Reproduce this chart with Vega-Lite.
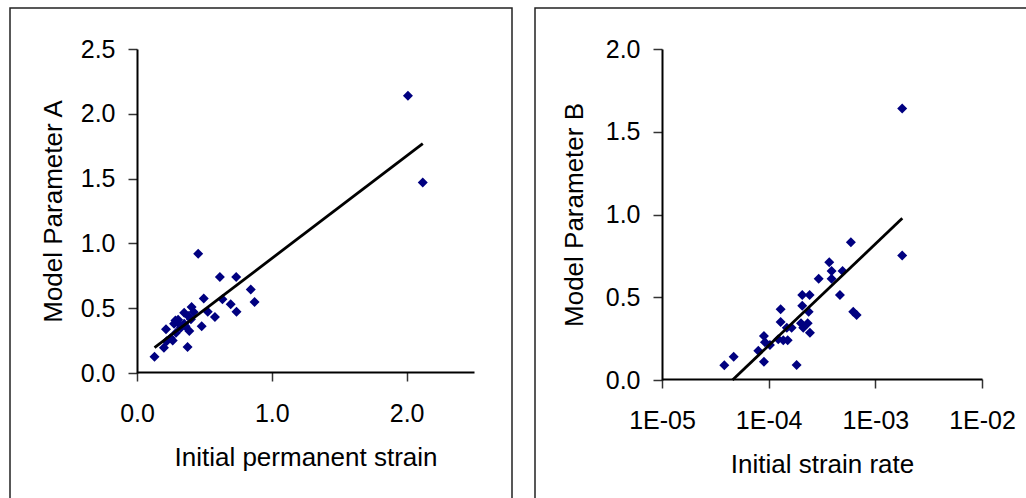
{
  "$schema": "https://vega.github.io/schema/vega-lite/v6.json",
  "padding": {"left": 9, "top": 7, "right": 0, "bottom": 0},
  "spacing": 21,
  "datasets": {
    "strainPoints": [
      {"strain": 0.13, "paramA": 0.125},
      {"strain": 0.20, "paramA": 0.195},
      {"strain": 0.215, "paramA": 0.337},
      {"strain": 0.22, "paramA": 0.245},
      {"strain": 0.25, "paramA": 0.27},
      {"strain": 0.265, "paramA": 0.25},
      {"strain": 0.275, "paramA": 0.38},
      {"strain": 0.285, "paramA": 0.405},
      {"strain": 0.305, "paramA": 0.41},
      {"strain": 0.305, "paramA": 0.385},
      {"strain": 0.325, "paramA": 0.35},
      {"strain": 0.29, "paramA": 0.31},
      {"strain": 0.35, "paramA": 0.465},
      {"strain": 0.35, "paramA": 0.38},
      {"strain": 0.36, "paramA": 0.36},
      {"strain": 0.375, "paramA": 0.2},
      {"strain": 0.38, "paramA": 0.44},
      {"strain": 0.388, "paramA": 0.324},
      {"strain": 0.40, "paramA": 0.415},
      {"strain": 0.405, "paramA": 0.51},
      {"strain": 0.42, "paramA": 0.47},
      {"strain": 0.454, "paramA": 0.92},
      {"strain": 0.48, "paramA": 0.36},
      {"strain": 0.495, "paramA": 0.575},
      {"strain": 0.525, "paramA": 0.473},
      {"strain": 0.578, "paramA": 0.432},
      {"strain": 0.615, "paramA": 0.74},
      {"strain": 0.634, "paramA": 0.57},
      {"strain": 0.695, "paramA": 0.53},
      {"strain": 0.736, "paramA": 0.74},
      {"strain": 0.738, "paramA": 0.473},
      {"strain": 0.844, "paramA": 0.645},
      {"strain": 0.872, "paramA": 0.548},
      {"strain": 2.01, "paramA": 2.14},
      {"strain": 2.12, "paramA": 1.47}
    ],
    "strainTrend": [
      {"strain": 0.13, "paramA": 0.1958},
      {"strain": 2.12, "paramA": 1.7702}
    ],
    "ratePoints": [
      {"rate": 3.84e-5, "paramB": 0.089},
      {"rate": 4.70e-5, "paramB": 0.141},
      {"rate": 8.0e-5, "paramB": 0.177},
      {"rate": 9.03e-5, "paramB": 0.110},
      {"rate": 9.03e-5, "paramB": 0.266},
      {"rate": 9.23e-5, "paramB": 0.228},
      {"rate": 1.028e-4, "paramB": 0.211},
      {"rate": 1.23e-4, "paramB": 0.246},
      {"rate": 1.371e-4, "paramB": 0.24},
      {"rate": 1.507e-4, "paramB": 0.24},
      {"rate": 1.294e-4, "paramB": 0.35},
      {"rate": 1.294e-4, "paramB": 0.427},
      {"rate": 1.479e-4, "paramB": 0.316},
      {"rate": 1.641e-4, "paramB": 0.316},
      {"rate": 1.828e-4, "paramB": 0.09},
      {"rate": 2.009e-4, "paramB": 0.343},
      {"rate": 2.065e-4, "paramB": 0.449},
      {"rate": 2.065e-4, "paramB": 0.514},
      {"rate": 2.109e-4, "paramB": 0.316},
      {"rate": 2.323e-4, "paramB": 0.343},
      {"rate": 2.371e-4, "paramB": 0.413},
      {"rate": 2.421e-4, "paramB": 0.514},
      {"rate": 2.438e-4, "paramB": 0.286},
      {"rate": 2.944e-4, "paramB": 0.612},
      {"rate": 3.698e-4, "paramB": 0.711},
      {"rate": 3.89e-4, "paramB": 0.659},
      {"rate": 3.89e-4, "paramB": 0.612},
      {"rate": 4.656e-4, "paramB": 0.514},
      {"rate": 4.932e-4, "paramB": 0.659},
      {"rate": 5.9e-4, "paramB": 0.832},
      {"rate": 6.21e-4, "paramB": 0.413},
      {"rate": 6.68e-4, "paramB": 0.393},
      {"rate": 1.786e-3, "paramB": 1.64},
      {"rate": 1.786e-3, "paramB": 0.753}
    ],
    "rateTrend": [
      {"rate": 4.58e-5, "paramB": 0.0},
      {"rate": 1.79e-3, "paramB": 0.9768}
    ]
  },
  "hconcat": [
    {
      "width": 502,
      "height": 494,
      "layer": [
        {
          "mark": {"type": "rule", "color": "#8c8c8c", "strokeWidth": 2},
          "encoding": {
            "x": {"datum": 0, "type": "quantitative"},
            "x2": {"datum": 2.5},
            "y": {"datum": 2.5, "type": "quantitative"}
          }
        },
        {
          "mark": {"type": "rule", "color": "#8c8c8c", "strokeWidth": 2},
          "encoding": {
            "x": {"datum": 2.5, "type": "quantitative"},
            "y": {"datum": 0, "type": "quantitative"},
            "y2": {"datum": 2.5}
          }
        },
        {
          "data": {"name": "strainPoints"},
          "mark": {"type": "point", "shape": "diamond", "filled": true, "color": "#000080", "size": 100, "opacity": 1},
          "encoding": {
            "x": {
              "field": "strain", "type": "quantitative",
              "scale": {"domain": [0, 2.5], "range": [127, 464], "nice": false},
              "axis": {
                "title": "Initial permanent strain",
                "values": [0, 1, 2], "format": ".1f",
                "offset": -130, "labelPadding": 20, "titlePadding": 18
              }
            },
            "y": {
              "field": "paramA", "type": "quantitative",
              "scale": {"domain": [0, 2.5], "range": [365, 41], "nice": false},
              "axis": {
                "title": "Model Parameter A",
                "values": [0, 0.5, 1, 1.5, 2, 2.5], "format": ".1f",
                "offset": -127, "labelPadding": 13, "titlePadding": 14
              }
            }
          }
        },
        {
          "data": {"name": "strainTrend"},
          "mark": {"type": "line", "color": "black", "strokeWidth": 2.8},
          "encoding": {
            "x": {"field": "strain", "type": "quantitative"},
            "y": {"field": "paramA", "type": "quantitative"}
          }
        },
        {
          "mark": {"type": "text", "text": "y = 0.7912x + 0.0929", "fontSize": 21, "align": "center", "baseline": "middle", "color": "black"},
          "encoding": {
            "x": {"datum": 0.856, "type": "quantitative"},
            "y": {"datum": 2.271, "type": "quantitative"}
          }
        },
        {
          "mark": {"type": "text", "text": "R² = 0.8325", "fontSize": 21, "align": "center", "baseline": "middle", "color": "black"},
          "encoding": {
            "x": {"datum": 0.856, "type": "quantitative"},
            "y": {"datum": 2.035, "type": "quantitative"}
          }
        }
      ]
    },
    {
      "width": 494,
      "height": 494,
      "layer": [
        {
          "mark": {"type": "rule", "color": "#8c8c8c", "strokeWidth": 2},
          "encoding": {
            "x": {"datum": 0.00001, "type": "quantitative"},
            "x2": {"datum": 0.01},
            "y": {"datum": 2, "type": "quantitative"}
          }
        },
        {
          "mark": {"type": "rule", "color": "#8c8c8c", "strokeWidth": 2},
          "encoding": {
            "x": {"datum": 0.01, "type": "quantitative"},
            "y": {"datum": 0, "type": "quantitative"},
            "y2": {"datum": 2}
          }
        },
        {
          "data": {"name": "ratePoints"},
          "mark": {"type": "point", "shape": "diamond", "filled": true, "color": "#000080", "size": 100, "opacity": 1},
          "encoding": {
            "x": {
              "field": "rate", "type": "quantitative",
              "scale": {"type": "log", "domain": [0.00001, 0.01], "range": [127, 447], "nice": false},
              "axis": {
                "title": "Initial strain rate",
                "values": [0.00001, 0.0001, 0.001, 0.01],
                "labelExpr": "'1E-0' + round(-log(datum.value) / LN10)",
                "offset": -123, "labelPadding": 20, "titlePadding": 18
              }
            },
            "y": {
              "field": "paramB", "type": "quantitative",
              "scale": {"domain": [0, 2], "range": [372, 41], "nice": false},
              "axis": {
                "title": "Model Parameter B",
                "values": [0, 0.5, 1, 1.5, 2], "format": ".1f",
                "offset": -127, "labelPadding": 13, "titlePadding": 18
              }
            }
          }
        },
        {
          "data": {"name": "rateTrend"},
          "mark": {"type": "line", "color": "black", "strokeWidth": 2.8},
          "encoding": {
            "x": {"field": "rate", "type": "quantitative"},
            "y": {"field": "paramB", "type": "quantitative"}
          }
        },
        {
          "mark": {"type": "text", "text": "y = 0.2664Ln(x) + 2.6619", "fontSize": 21, "align": "center", "baseline": "middle", "color": "black"},
          "encoding": {
            "x": {"datum": 0.00019, "type": "quantitative"},
            "y": {"datum": 1.837, "type": "quantitative"}
          }
        },
        {
          "mark": {"type": "text", "text": "R² = 0.6543", "fontSize": 21, "align": "center", "baseline": "middle", "color": "black"},
          "encoding": {
            "x": {"datum": 0.00019, "type": "quantitative"},
            "y": {"datum": 1.642, "type": "quantitative"}
          }
        }
      ]
    }
  ],
  "config": {
    "font": "Liberation Sans",
    "background": "white",
    "view": {"stroke": "#222222", "strokeWidth": 1.5},
    "axis": {
      "grid": false,
      "zindex": 1,
      "domainColor": "black",
      "domainWidth": 2,
      "tickColor": "#333333",
      "tickWidth": 1.5,
      "tickSize": 9,
      "labelFont": "Liberation Sans",
      "labelFontSize": 25,
      "labelColor": "black",
      "labelFlush": false,
      "labelOverlap": false,
      "titleFont": "Liberation Sans",
      "titleFontSize": 26,
      "titleFontWeight": "normal",
      "titleColor": "black"
    }
  }
}
